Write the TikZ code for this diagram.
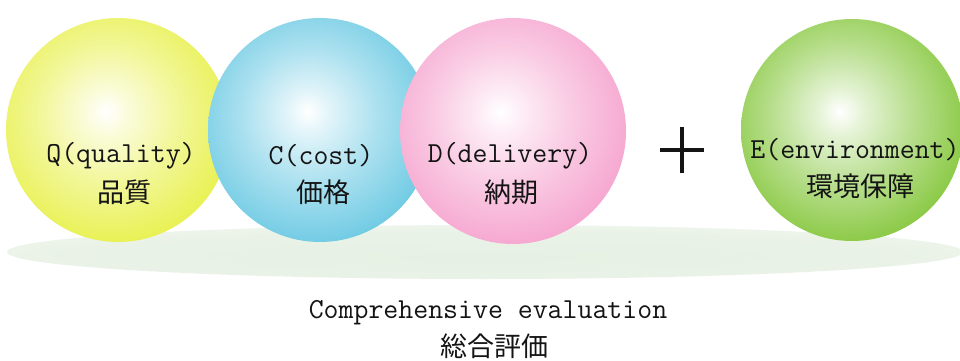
\documentclass[tikz,border=0pt]{standalone}
\usepackage{fontspec}
\newfontfamily\cjkf{Noto Sans CJK JP}
\definecolor{cyel}{HTML}{E4EE2E}
\definecolor{cblu}{HTML}{52C0DE}
\definecolor{cpnk}{HTML}{F494C6}
\definecolor{cgrn}{HTML}{72BE1E}
\definecolor{cshd}{HTML}{E6F0E3}
\definecolor{ctxt}{HTML}{141414}
\definecolor{spc}{HTML}{E4EE2E}
\pgfdeclareradialshading[spc]{sphere}{\pgfpoint{-2.8bp}{4.2bp}}{color(0bp)=(white); color(5bp)=(white!82!spc); color(15bp)=(white!52!spc); color(28bp)=(white!18!spc); color(42bp)=(spc); color(70bp)=(spc)}
\pgfdeclareradialshading{shadow}{\pgfpoint{0bp}{-6bp}}{color(0bp)=(cshd); color(22bp)=(cshd!85!white); color(40bp)=(cshd!35!white); color(50bp)=(white)}
\tikzset{
  ball/.style={shading=sphere},
  lat/.style={font=\ttfamily\fontsize{29}{32}\selectfont, text=ctxt, inner sep=0pt},
  cjk/.style={font=\cjkf\fontsize{27}{30}\selectfont, text=ctxt, inner sep=0pt},
}
\begin{document}
\begin{tikzpicture}[x=1pt,y=-1pt]
\useasboundingbox (0,0) rectangle (960,361);
\fill[white] (0,0) rectangle (960,361);
% shadow
\shade[shading=shadow] (485,252) ellipse [x radius=478, y radius=27];
% spheres
\colorlet{spc}{cyel}
\shade[ball] (118,130) circle [radius=112];
\colorlet{spc}{cblu}
\shade[ball] (320,130) circle [radius=112];
\colorlet{spc}{cpnk}
\shade[ball] (513,131) circle [radius=113];
\colorlet{spc}{cgrn}
\shade[ball] (852,130) circle [radius=111];
% labels
\node[lat] (q1) at (121,156) {Q(quality)};
\node[cjk] (q2) at (124,192) {品質};
\node[lat] (c1) at (321,156) {C(cost)};
\node[cjk] (c2) at (323,192) {価格};
\node[lat] (d1) at (510,156) {D(delivery)};
\node[cjk] (d2) at (511,192) {納期};
\node[lat] (e1) at (855,150) {E(environment)};
\node[cjk] (e2) at (860,186) {環境保障};
% plus sign
\coordinate (plus) at (682,150);
\draw[line width=3.6pt, ctxt] ([xshift=-22pt]plus) -- ([xshift=22pt]plus);
\draw[line width=3.6pt, ctxt] ([yshift=-23pt]plus) -- ([yshift=23pt]plus);
% bottom
\node[lat] (t1) at (488,313) {Comprehensive evaluation};
\node[cjk] (t2) at (494,346) {総合評価};
\end{tikzpicture}
\end{document}
